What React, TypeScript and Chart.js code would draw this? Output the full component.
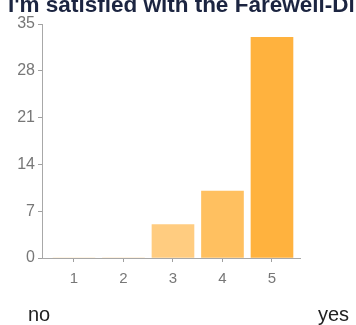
import React, { useEffect, useRef } from "react";
import { Chart, registerables } from "chart.js";

Chart.register(...registerables);

const title = "I'm satisfied with the Farewell-Dinner";
const categories = [1, 2, 3, 4, 5];
const counts = [0, 0, 5, 10, 33];
const barColors = ["#FFD699", "#FFD08A", "#FFCC80", "#FFC060", "#FFB23E"];
const yTicks = [0, 7, 14, 21, 28, 35];
const lowLabel = "no";
const highLabel = "yes";

const FONT = "'Liberation Sans', Arial, sans-serif";

export default function App() {
  const ref = useRef<HTMLCanvasElement | null>(null);

  useEffect(() => {
    if (!ref.current) return;
    const chart = new Chart(ref.current, {
      type: "bar",
      data: {
        datasets: [
          {
            data: categories.map((c, i) => ({ x: c, y: counts[i] })),
            backgroundColor: barColors,
            borderWidth: 0,
            barThickness: 42,
          },
        ],
      },
      options: {
        animation: false,
        responsive: false,
        devicePixelRatio: 1,
        layout: { padding: { top: 24, right: 56, bottom: 0, left: 0 } },
        plugins: { legend: { display: false }, tooltip: { enabled: false }, title: { display: false } },
        scales: {
          x: {
            type: "linear",
            offset: false,
            min: 0.354,
            max: 5.566,
            afterBuildTicks: (axis: any) => {
              axis.ticks = categories.map((v) => ({ value: v }));
            },
            afterFit: (scale: any) => {
              scale.height = 67;
            },
            grid: { drawOnChartArea: false, offset: false, tickLength: 4, color: "#a0a0a0", lineWidth: 1 },
            border: { color: "#a8a8a8", width: 1 },
            ticks: {
              color: "#777",
              font: { family: FONT, size: 15 },
              padding: 8,
              callback: (v: any) => String(v),
            },
          },
          y: {
            min: 0,
            max: 35,
            afterBuildTicks: (axis: any) => {
              axis.ticks = yTicks.map((v) => ({ value: v }));
            },
            afterFit: (scale: any) => {
              scale.width = 42;
            },
            grid: { drawOnChartArea: false, tickLength: 4, color: "#a0a0a0", lineWidth: 1 },
            border: { color: "#a8a8a8", width: 1 },
            ticks: {
              color: "#777",
              font: { family: FONT, size: 16 },
              padding: 3,
            },
          },
        },
      },
    });
    return () => chart.destroy();
  }, []);

  return (
    <div
      style={{
        position: "fixed",
        left: 0,
        top: 0,
        width: 356,
        height: 325,
        overflow: "hidden",
        background: "#fff",
      }}
    >
      <canvas ref={ref} width={356} height={325} style={{ position: "absolute", left: 0, top: 0 }} />
      <div
        style={{
          position: "absolute",
          left: 8,
          top: -6,
          whiteSpace: "nowrap",
          fontFamily: FONT,
          fontWeight: "bold",
          fontSize: 22.5,
          lineHeight: "22.5px",
          color: "#1c2541",
        }}
      >
        {title}
      </div>
      <div
        style={{
          position: "absolute",
          left: 28,
          top: 304,
          fontFamily: FONT,
          fontSize: 20,
          lineHeight: "20px",
          color: "#222",
        }}
      >
        {lowLabel}
      </div>
      <div
        style={{
          position: "absolute",
          left: 318,
          top: 304,
          fontFamily: FONT,
          fontSize: 20,
          lineHeight: "20px",
          color: "#222",
        }}
      >
        {highLabel}
      </div>
    </div>
  );
}
